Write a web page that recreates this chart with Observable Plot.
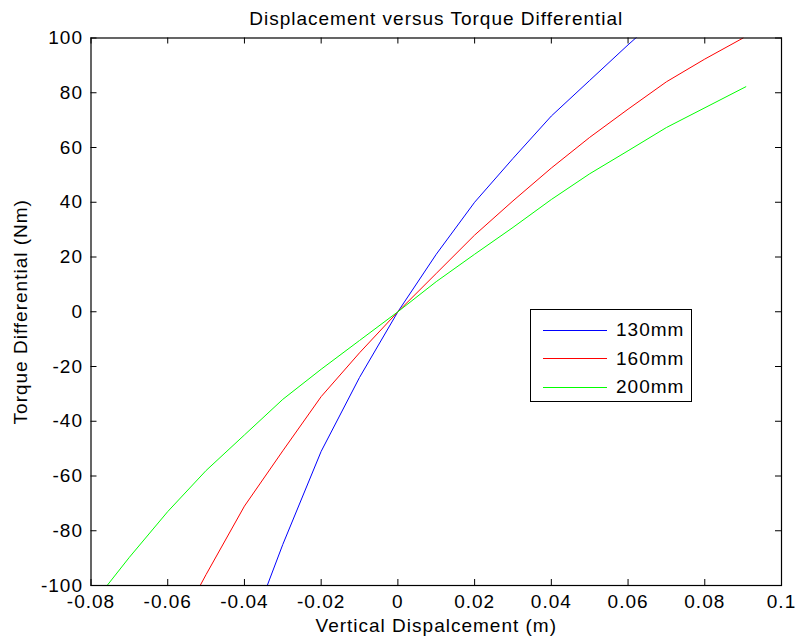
<!DOCTYPE html>
<html>
<head>
<meta charset="utf-8">
<script src="https://cdn.jsdelivr.net/npm/d3@7"></script>
<script src="https://cdn.jsdelivr.net/npm/@observablehq/plot@0.6"></script>
<style>
  html, body { margin: 0; padding: 0; background: #fff; }
  #wrap { position: relative; width: 797px; height: 643px; }
  #wrap svg text { letter-spacing: 1px; }
  #legend { position: absolute; left: 530px; top: 309px; width: 162px; height: 93px;
    border: 1px solid #000; background: #fff; font-family: "Liberation Sans", Arial, sans-serif;
    font-size: 19px; letter-spacing: 1px; box-sizing: border-box; }
  .item { position: absolute; left: 12px; height: 28px; display: flex; align-items: center; }
  .item span.sw { display: inline-block; width: 64px; height: 0; border-top: 1px solid; margin-right: 9px; }
</style>
</head>
<body>
<div id="wrap"></div>
<script>
// Data: vertical displacement (m) vs torque differential (Nm)
const disp130 = [-0.04, -0.03, -0.02, -0.01, 0, 0.01, 0.02, 0.03, 0.04, 0.05, 0.06, 0.07];
const torque130 = [-122, -85, -51, -24, 0, 21, 40, 56, 71.5, 84.5, 97.5, 110];
const disp160 = [-0.06, -0.05, -0.04, -0.03, -0.02, -0.01, 0, 0.01, 0.02, 0.03, 0.04, 0.05, 0.06, 0.07, 0.08, 0.09];
const torque160 = [-122, -96, -71, -50.8, -31, -15, 0, 14, 28, 40.5, 52.5, 63.7, 74, 84, 92.3, 100];
const disp200 = [-0.0758, -0.07, -0.06, -0.05, -0.04, -0.03, -0.02, -0.01, 0, 0.01, 0.02, 0.03, 0.04, 0.05, 0.06, 0.07, 0.0907];
const torque200 = [-100, -89.7, -73, -58, -45, -32, -21, -10.5, 0, 11, 21, 30.8, 41, 50.4, 58.8, 67.3, 82.2];
const seriesNames = ["130mm", "160mm", "200mm"];
const seriesColors = ["#0000ff", "#ff0000", "#00ff00"];
const xTicks = [-0.08, -0.06, -0.04, -0.02, 0, 0.02, 0.04, 0.06, 0.08, 0.1];
const yTicks = [-100, -80, -60, -40, -20, 0, 20, 40, 60, 80, 100];
const xTickLabels = ["-0.08", "-0.06", "-0.04", "-0.02", "0", "0.02", "0.04", "0.06", "0.08", "0.1"];
const yTickLabels = ["-100", "-80", "-60", "-40", "-20", "0", "20", "40", "60", "80", "100"];

const rows = [];
[[disp130, torque130], [disp160, torque160], [disp200, torque200]].forEach(([xs, ys], i) => {
  xs.forEach((x, j) => rows.push({series: seriesNames[i], x, y: ys[j]}));
});

const W = 797, H = 643;
const mL = 90.5, mR = 16, mT = 37.5, mB = 58;
const innerW = W - mL - mR, innerH = H - mT - mB;
const font = '"Liberation Sans", Arial, sans-serif';

const plot = Plot.plot({
  width: W, height: H,
  marginLeft: mL, marginRight: mR, marginTop: mT, marginBottom: mB,
  style: {fontFamily: font, fontSize: "19px", background: "#fff", color: "#000"},
  x: {domain: [-0.08, 0.1]},
  y: {domain: [-100, 100]},
  color: {domain: seriesNames, range: seriesColors},
  marks: [
    Plot.line(rows, {x: "x", y: "y", z: "series", stroke: "series", strokeWidth: 1, clip: true}),
    // inward ticks (bottom/top/left/right)
    Plot.tickX(xTicks, {x: d => d, insetTop: innerH - 6, stroke: "#000"}),
    Plot.tickX(xTicks, {x: d => d, insetBottom: innerH - 6, stroke: "#000"}),
    Plot.tickY(yTicks, {y: d => d, insetRight: innerW - 6, stroke: "#000"}),
    Plot.tickY(yTicks, {y: d => d, insetLeft: innerW - 6, stroke: "#000"}),
    Plot.frame({stroke: "#000", strokeWidth: 1.2}),
    Plot.axisX(xTicks, {tickSize: 0, tickPadding: 9, tickFormat: (d, i) => xTickLabels[i], fontSize: 19,
      label: "Vertical Dispalcement (m)", labelAnchor: "center", labelArrow: "none", labelOffset: 46}),
    Plot.axisY(yTicks, {tickSize: 0, tickPadding: 8, fontSize: 19, tickFormat: (d, i) => yTickLabels[i],
      label: "Torque Differential (Nm)", labelAnchor: "center", labelArrow: "none", labelOffset: 78}),
    Plot.text(["Displacement versus Torque Differential"], {frameAnchor: "top", dy: -27, fontSize: 19,
      style: "letter-spacing:1.35px"})
  ]
});
document.getElementById("wrap").appendChild(plot);

// legend
const leg = document.createElement("div");
leg.id = "legend";
seriesNames.forEach((n, i) => {
  const it = document.createElement("div");
  it.className = "item";
  it.style.top = (6 + i * 28.7) + "px";
  const sw = document.createElement("span");
  sw.className = "sw";
  sw.style.borderColor = seriesColors[i];
  it.appendChild(sw);
  it.appendChild(document.createTextNode(n));
  leg.appendChild(it);
});
document.getElementById("wrap").appendChild(leg);
</script>
</body>
</html>
